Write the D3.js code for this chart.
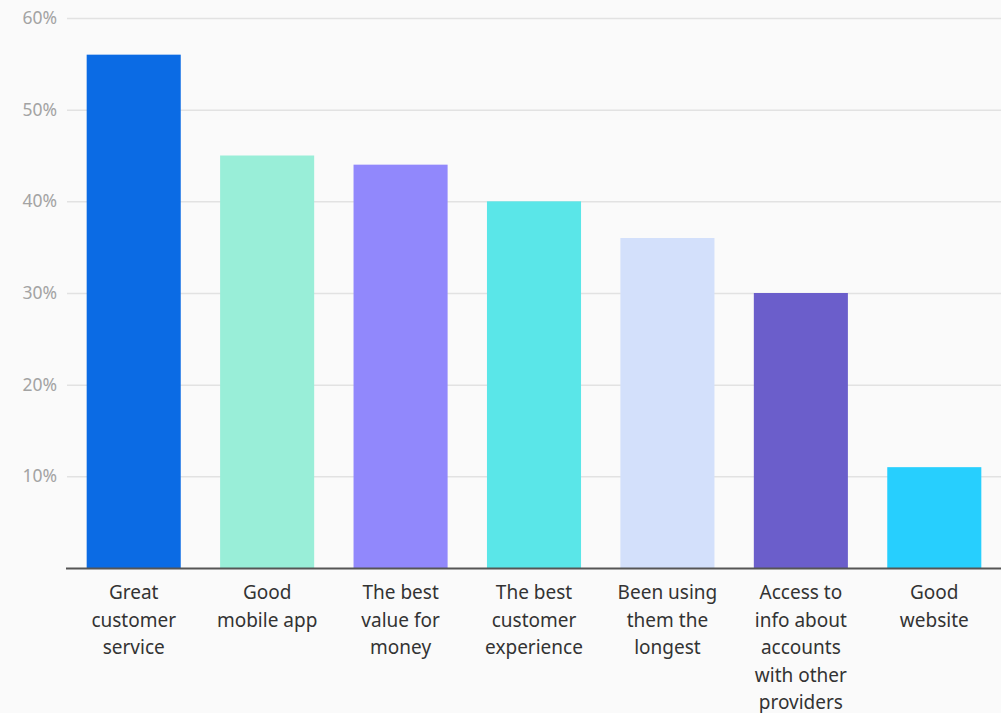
<!DOCTYPE html>
<html>
<head>
<meta charset="utf-8">
<script src="https://cdn.jsdelivr.net/npm/d3@7"></script>
<style>
  html, body { margin: 0; padding: 0; background: #fafafa; }
  svg { display: block; }
  text { font-family: "Noto Sans", Lato, sans-serif; }
</style>
</head>
<body>
<svg id="chart" width="1001" height="713"></svg>
<script>
const categories = [
  ["Great", "customer", "service"],
  ["Good", "mobile app"],
  ["The best", "value for", "money"],
  ["The best", "customer", "experience"],
  ["Been using", "them the", "longest"],
  ["Access to", "info about", "accounts", "with other", "providers"],
  ["Good", "website"]
];
const values = [56, 45, 44, 40, 36, 30, 11];
const colors = ["#0b6be4", "#99eed8", "#9188fc", "#5ae6e8", "#d3e0fb", "#6b5ecb", "#27cffe"];
const yTicks = [10, 20, 30, 40, 50, 60];

const svg = d3.select("#chart");
const W = 1001, H = 713;
const m = { left: 67, right: 0, top: 18, baseline: 568 };

const x = d3.scaleBand()
  .domain(d3.range(values.length))
  .range([m.left, W - m.right])
  .paddingInner(0.295)
  .paddingOuter(0.1475);

const y = d3.scaleLinear().domain([0, 60]).range([m.baseline, m.top]);

// gridlines + tick labels
const yAxis = d3.axisLeft(y)
  .tickValues(yTicks)
  .tickSize(-(W - m.left - m.right))
  .tickPadding(10)
  .tickFormat(d => d + "%");

const gy = svg.append("g")
  .attr("transform", `translate(${m.left},0)`)
  .call(yAxis);
gy.select(".domain").remove();
gy.selectAll(".tick line").attr("stroke", "#e2e2e2").attr("stroke-width", 1.5);
gy.selectAll(".tick text")
  .attr("fill", "#a3a3a3")
  .attr("font-size", 17.5)
  .attr("x", -10);

// bars
svg.append("g").selectAll("rect")
  .data(values)
  .join("rect")
  .attr("x", (d, i) => x(i))
  .attr("width", x.bandwidth())
  .attr("y", d => y(d))
  .attr("height", d => y(0) - y(d))
  .attr("fill", (d, i) => colors[i]);

// baseline
svg.append("line")
  .attr("x1", m.left - 1).attr("x2", W)
  .attr("y1", y(0) + 0.5).attr("y2", y(0) + 0.5)
  .attr("stroke", "#555").attr("stroke-width", 2);

// category labels
const lab = svg.append("g").selectAll("text")
  .data(categories)
  .join("text")
  .attr("text-anchor", "middle")
  .attr("fill", "#333")
  .attr("font-size", 19)
  .attr("transform", (d, i) => `translate(${x(i) + x.bandwidth() / 2},599)`);
lab.selectAll("tspan")
  .data(d => d)
  .join("tspan")
  .attr("x", 0)
  .attr("dy", (d, j) => j === 0 ? 0 : 27.5)
  .text(d => d);
</script>
</body>
</html>
